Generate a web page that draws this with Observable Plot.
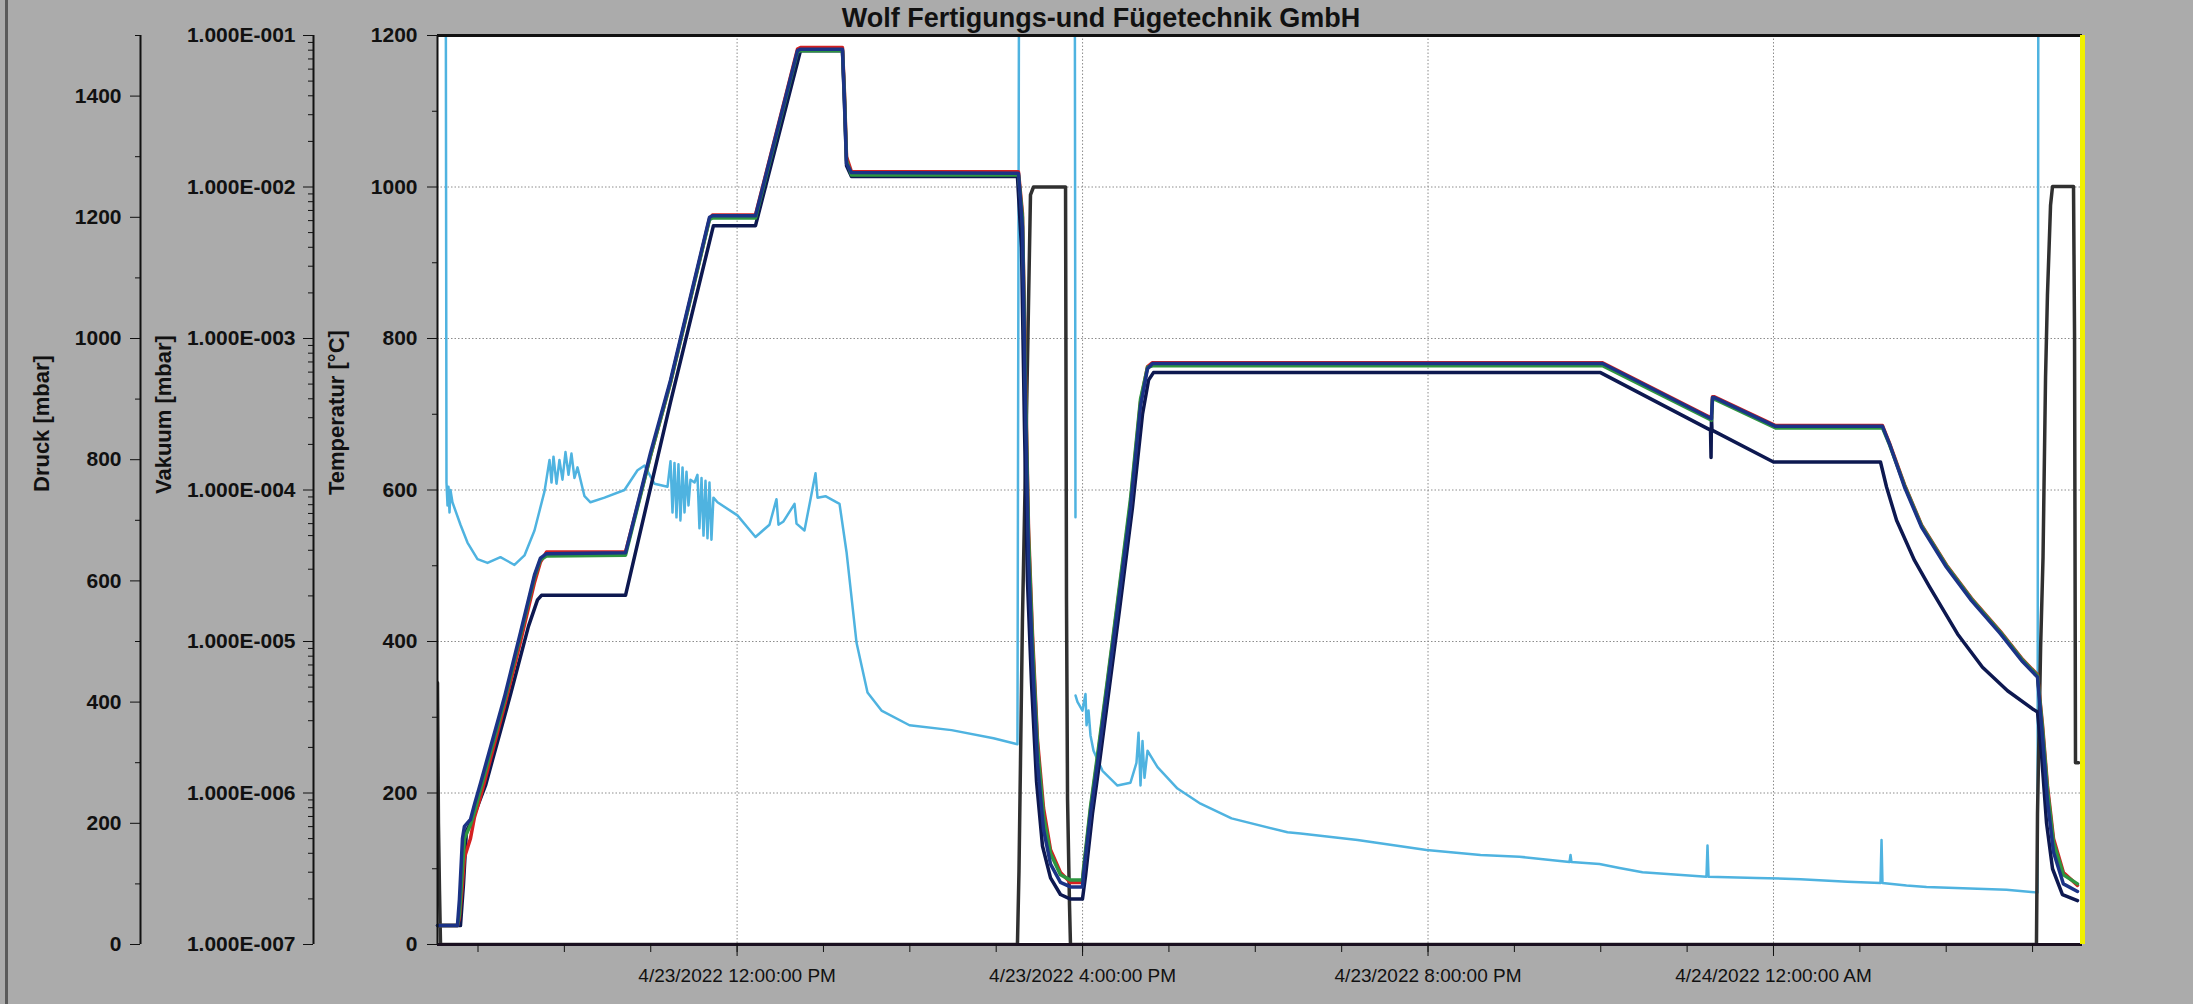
<!DOCTYPE html>
<html><head><meta charset="utf-8">
<script src="https://cdn.jsdelivr.net/npm/d3@7"></script>
<script src="https://cdn.jsdelivr.net/npm/@observablehq/plot@0.6"></script>
<style>
html,body{margin:0;padding:0;background:#ababab;}
#chart{position:relative;width:2193px;height:1004px;background:#ababab;overflow:hidden;font-family:"Liberation Sans",Arial,sans-serif;}
#edge{position:absolute;left:5px;top:0;width:3px;height:1004px;background:#5a5a5a;}
#title{position:absolute;left:0;width:2202px;text-align:center;top:3px;font-size:27px;font-weight:bold;color:#111;white-space:nowrap;}
</style></head>
<body><div id="chart"><div id="edge"></div><div id="title">Wolf Fertigungs-und Fügetechnik GmbH</div></div>
<script>
// ---- data (time in hours since 4/23/2022 00:00) ----
const tempTimes = [8.531,8.762,8.785,8.820,8.843,8.913,8.959,9.029,9.307,9.492,9.654,9.723,9.793,10.708,10.997,11.229,11.680,11.715,12.213,12.699,12.734,13.220,13.243,13.267,13.324,15.258,15.304,15.339,15.374,15.420,15.478,15.548,15.629,15.744,15.860,15.999,16.011,16.092,16.173,16.289,16.404,16.555,16.671,16.752,16.810,22.021,23.282,23.294,23.317,24.024,25.262,25.343,25.517,25.714,26.003,26.293,26.629,26.872,27.057,27.115,27.172,27.242,27.357,27.520];
const tempTC1 = [25,25,60,140,156,165,185,213,327,412,488,510,516,517,649,745,960,962,962,1180,1182,1182,1114,1031,1019,1018,947,711,510,375,240,152,106,82,76,76,92,173,240,341,442,577,711,760,767,767,694,722,722,684,684,661,604,551,498,454,410,375,353,274,190,122,80,70];
const tempGreen = [25,25,40,100,140,158,175,205,322,408,485,508,513,514,645,742,957,959,959,1178,1180,1180,1120,1035,1016,1016,960,740,540,400,262,170,120,92,85,85,100,182,250,350,452,588,720,762,764,764,692,720,720,682,682,660,606,553,500,456,412,377,355,285,205,135,92,80];
const tempRed = [25,25,35,80,115,140,168,195,315,400,478,505,518,518,645,742,958,963,963,1182,1184,1184,1125,1040,1020,1020,965,750,550,410,270,180,125,95,82,82,96,178,245,346,448,582,716,763,768,768,695,723,723,685,685,662,607,554,501,457,413,378,356,290,210,140,95,78];

const tempTC2 = [[8.531,25],[8.797,25],[8.832,80],[8.866,150],[8.936,165],[9.087,210],[9.376,330],[9.584,420],[9.689,455],[9.735,461],[10.708,461],[11.229,716],[11.726,949],[12.213,949],[12.734,1180],[13.220,1180],[13.243,1110],[13.267,1028],[13.324,1014],[15.246,1014],[15.293,920],[15.328,680],[15.362,480],[15.409,345],[15.467,215],[15.536,130],[15.629,88],[15.744,66],[15.860,60],[15.999,60],[16.034,90],[16.115,173],[16.196,240],[16.312,341],[16.428,442],[16.578,577],[16.694,700],[16.764,745],[16.821,755],[21.997,755],[23.271,679],[23.277,643],[23.282,697],[23.288,679],[24.000,637],[25.239,637],[25.309,604],[25.425,560],[25.633,507],[25.807,472],[26.131,410],[26.420,366],[26.710,335],[27.000,311],[27.057,307],[27.104,250],[27.162,160],[27.231,100],[27.346,66],[27.520,58]];

const druck = [[8.531,432],[8.542,200],[8.554,89],[8.566,0],[15.246,0],[15.264,122],[15.304,537],[15.351,875],[15.397,1237],[15.432,1250],[15.803,1250],[15.814,569],[15.826,241],[15.849,64],[15.860,0],[27.045,0],[27.057,216],[27.093,490],[27.121,639],[27.150,935],[27.172,1071],[27.208,1220],[27.231,1251],[27.474,1251],[27.486,1004],[27.497,300],[27.532,300]];

const vakuum = [[8.531,10],[8.623,10],[8.635,1.12e-4],[8.647,7.9e-5],[8.658,1.05e-4],[8.670,7.1e-5],[8.681,1.0e-4],[8.704,8.3e-5],[8.797,5.9e-5],[8.878,4.5e-5],[8.994,3.5e-5],[9.110,3.3e-5],[9.260,3.6e-5],[9.341,3.4e-5],[9.422,3.2e-5],[9.538,3.7e-5],[9.654,5.4e-5],[9.770,9.8e-5],[9.828,1.58e-4],[9.851,1.12e-4],[9.874,1.66e-4],[9.909,1.10e-4],[9.943,1.58e-4],[9.978,1.17e-4],[10.013,1.78e-4],[10.048,1.26e-4],[10.082,1.74e-4],[10.117,1.20e-4],[10.152,1.41e-4],[10.233,9.1e-5],[10.302,8.3e-5],[10.465,8.9e-5],[10.696,1.0e-4],[10.847,1.35e-4],[10.928,1.45e-4],[11.044,1.10e-4],[11.194,1.05e-4],[11.229,1.55e-4],[11.252,7.1e-5],[11.275,1.51e-4],[11.298,6.6e-5],[11.321,1.48e-4],[11.344,6.3e-5],[11.368,1.41e-4],[11.391,7.1e-5],[11.414,1.32e-4],[11.437,7.9e-5],[11.460,1.17e-4],[11.507,1.12e-4],[11.541,1.26e-4],[11.564,5.6e-5],[11.588,1.20e-4],[11.611,5.0e-5],[11.634,1.15e-4],[11.657,4.8e-5],[11.680,1.12e-4],[11.703,4.7e-5],[11.726,8.9e-5],[11.773,8.3e-5],[12.004,6.8e-5],[12.213,4.9e-5],[12.375,5.9e-5],[12.456,8.7e-5],[12.479,5.9e-5],[12.537,6.2e-5],[12.665,8.1e-5],[12.688,6.0e-5],[12.780,5.4e-5],[12.908,1.29e-4],[12.931,8.9e-5],[13.023,9.1e-5],[13.186,8.1e-5],[13.267,3.9e-5],[13.383,9.8e-6],[13.510,4.6e-6],[13.672,3.5e-6],[13.996,2.8e-6],[14.483,2.6e-6],[14.969,2.3e-6],[15.246,2.1e-6],[15.270,10],[15.907,10],[15.918,6.6e-5],[15.918,NaN],[15.919,4.4e-6],[15.941,4.0e-6],[15.999,3.5e-6],[16.034,4.5e-6],[16.046,2.8e-6],[16.069,3.5e-6],[16.092,2.4e-6],[16.127,1.9e-6],[16.231,1.4e-6],[16.404,1.12e-6],[16.555,1.17e-6],[16.624,1.58e-6],[16.648,2.5e-6],[16.671,1.12e-6],[16.694,2.2e-6],[16.717,1.26e-6],[16.752,1.9e-6],[16.868,1.48e-6],[17.099,1.07e-6],[17.366,8.5e-7],[17.725,6.8e-7],[18.373,5.5e-7],[18.524,5.4e-7],[19.184,4.9e-7],[19.983,4.2e-7],[20.608,3.9e-7],[21.059,3.8e-7],[21.638,3.5e-7],[21.650,3.9e-7],[21.661,3.5e-7],[21.985,3.4e-7],[22.217,3.2e-7],[22.483,3.0e-7],[23.224,2.8e-7],[23.236,4.5e-7],[23.248,2.8e-7],[23.803,2.75e-7],[24.313,2.7e-7],[24.857,2.6e-7],[25.239,2.55e-7],[25.251,4.9e-7],[25.262,2.55e-7],[25.540,2.45e-7],[25.772,2.4e-7],[26.698,2.3e-7],[27.057,2.2e-7],[27.069,10],[27.578,10]];

const xRangeHours = [8.531, 27.578];
const tempTicks = [0,200,400,600,800,1000,1200];
const tempMinorTicks = [100,300,500,700,900,1100];
const druckTicks = [0,200,400,600,800,1000,1200,1400];
const druckMinorTicks = [100,300,500,700,900,1100,1300,1500];
const vakuumTicks = [1e-7,1e-6,1e-5,1e-4,1e-3,1e-2,1e-1];
const timeLabelHours = [12,16,20,24];
const timeMinorHours = [9,10,11,12,13,14,15,16,17,18,19,20,21,22,23,24,25,26,27];
const axisTitles = {temp: "Temperatur [°C]", druck: "Druck [mbar]", vakuum: "Vakuum [mbar]"};

// ---- helpers ----
const base = new Date(2022, 3, 23, 0, 0, 0).getTime();
const toDate = h => new Date(base + h * 3600000);
const fromArrays = (times, values) => times.map((h, i) => ({t: toDate(h), v: values[i]}));
const fromPairs = pairs => pairs.map(([h, v]) => ({t: toDate(h), v}));
const xDomain = xRangeHours.map(toDate);
const majorTimes = timeLabelHours.map(toDate);
const minorTimes = timeMinorHours.map(toDate);
const vakuumMinorTicks = d3.range(-7, -1).flatMap(e => d3.range(2, 10).map(k => k * Math.pow(10, e)));
const fmtTime = d3.timeFormat("%-m/%-d/%Y %-I:%M:%S %p");
const sci = v => { const e = Math.round(Math.log10(v)); return "1.000E" + (e < 0 ? "-" : "+") + String(Math.abs(e)).padStart(3, "0"); };

const W = 2193, H = 1004;
const common = {width: W, height: H, marginLeft: 437, marginRight: 111, marginTop: 35, marginBottom: 60};
const labelFont = {fontSize: 21, fontWeight: "bold"};
const titleFont = {fontSize: 22, fontWeight: "bold", fill: "#111"};
const gridStyle = {stroke: "#8c8c8c", strokeOpacity: 1, strokeDasharray: "1.5,2", strokeWidth: 1};

function place(svg) {
  svg.style.position = "absolute";
  svg.style.left = "0px";
  svg.style.top = "0px";
  svg.style.background = "transparent";
  svg.style.maxWidth = "none";
  svg.style.fontFamily = "'Liberation Sans', Arial, sans-serif";
  svg.style.color = "#111";
  svg.style.overflow = "visible";
  document.getElementById("chart").appendChild(svg);
}

// Layer 1: Vakuum (log) + white plot background + grid
const vakPlot = Plot.plot({
  ...common,
  x: {type: "time", domain: xDomain, axis: null},
  y: {type: "log", domain: [1e-7, 1e-1], axis: null, label: null},
  marks: [
    Plot.frame({fill: "white", stroke: null}),
    Plot.gridY(vakuumTicks, gridStyle),
    Plot.gridX(majorTimes, gridStyle),
    Plot.line(fromPairs(vakuum), {x: "t", y: "v", stroke: "#4fb3e0", strokeWidth: 2.5, clip: true}),
    Plot.ruleX([xDomain[0]], {dx: -124, stroke: "#111", strokeWidth: 2}),
    Plot.axisY(vakuumTicks, {anchor: "left", dx: -124, tickSize: 10, tickPadding: 8, tickFormat: sci, label: null, ...labelFont}),
    Plot.axisY(vakuumMinorTicks, {anchor: "left", dx: -124, tickSize: 5, tickFormat: () => "", label: null}),
    Plot.text([axisTitles.vakuum], {frameAnchor: "left", text: d => d, rotate: -90, dx: -274, dy: 4, ...titleFont})
  ]
});
place(vakPlot);

// Layer 2: Druck
const druckPlot = Plot.plot({
  ...common,
  x: {type: "time", domain: xDomain, axis: null},
  y: {domain: [0, 1500], axis: null, label: null},
  marks: [
    Plot.line(fromPairs(druck), {x: "t", y: "v", stroke: "#303030", strokeWidth: 3.5, clip: true}),
    Plot.ruleX([xDomain[0]], {dx: -297, stroke: "#111", strokeWidth: 2}),
    Plot.axisY(druckTicks, {anchor: "left", dx: -297, tickSize: 10, tickPadding: 9, tickFormat: d => String(d), label: null, ...labelFont}),
    Plot.axisY(druckMinorTicks, {anchor: "left", dx: -297, tickSize: 5, tickFormat: () => "", label: null}),
    Plot.text([axisTitles.druck], {frameAnchor: "left", text: d => d, rotate: -90, dx: -396, dy: 2, ...titleFont})
  ]
});
place(druckPlot);

// Layer 3: Temperatur
const tempPlot = Plot.plot({
  ...common,
  x: {type: "time", domain: xDomain},
  y: {domain: [0, 1200], label: null},
  marks: [
    Plot.line(fromPairs(tempTC2), {x: "t", y: "v", stroke: "#0d1850", strokeWidth: 3.5}),
    Plot.line(fromArrays(tempTimes, tempRed), {x: "t", y: "v", stroke: "#d42020", strokeWidth: 3.5}),
    Plot.line(fromArrays(tempTimes, tempGreen), {x: "t", y: "v", stroke: "#2e9640", strokeWidth: 3.5}),
    Plot.line(fromArrays(tempTimes, tempTC1), {x: "t", y: "v", stroke: "#1b3386", strokeWidth: 3.5}),
    Plot.ruleY([1200], {stroke: "#111", strokeWidth: 3}),
    Plot.ruleY([0], {stroke: "#1a1020", strokeWidth: 3}),
    Plot.ruleX([xDomain[0]], {stroke: "#111", strokeWidth: 2}),
    Plot.ruleX([xDomain[1]], {stroke: "#f0f000", strokeWidth: 5}),
    Plot.axisY(tempTicks, {anchor: "left", tickSize: 10, tickPadding: 10, tickFormat: d => String(d), label: null, ...labelFont}),
    Plot.axisY(tempMinorTicks, {anchor: "left", tickSize: 5, tickFormat: () => "", label: null}),
    Plot.axisX(majorTimes, {anchor: "bottom", tickSize: 12, tickPadding: 12, tickFormat: fmtTime, fontSize: 19, label: null}),
    Plot.axisX(minorTimes, {anchor: "bottom", tickSize: 8, tickFormat: () => "", label: null}),
    Plot.text([axisTitles.temp], {frameAnchor: "left", text: d => d, rotate: -90, dx: -101, dy: 5, ...titleFont})
  ]
});
place(tempPlot);
</script>
</body></html>
